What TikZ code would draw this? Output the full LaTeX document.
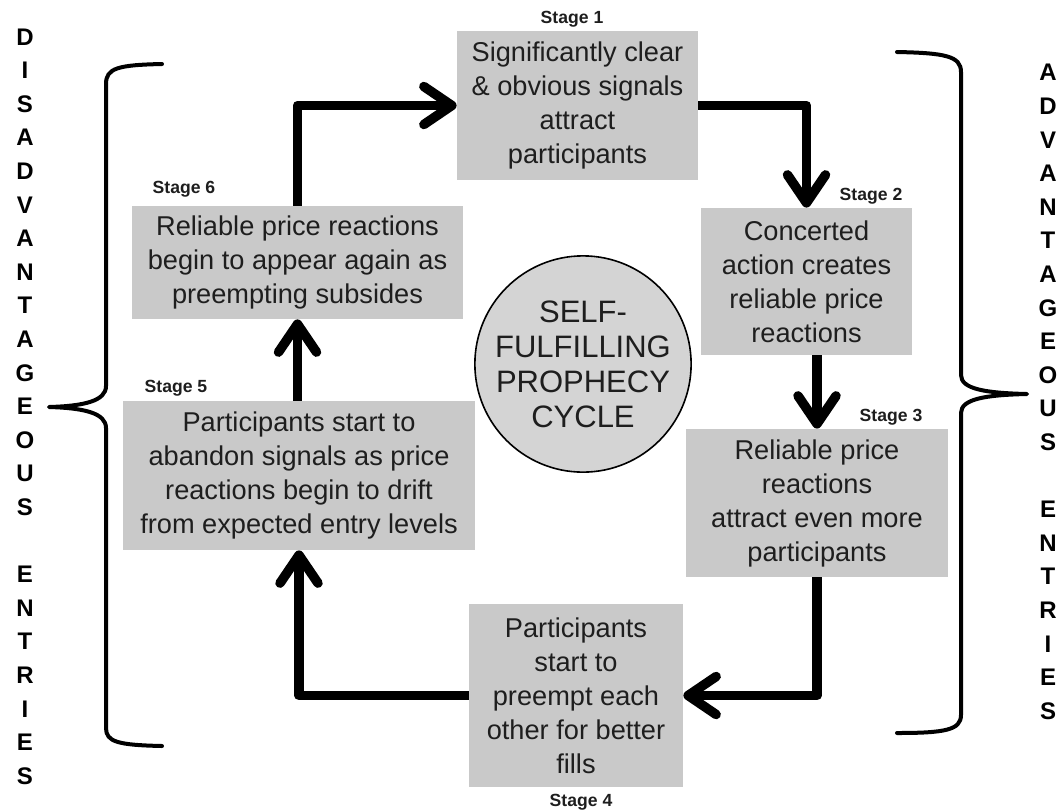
\documentclass[tikz,border=0pt]{standalone}
\usepackage{fontspec}
\setmainfont{Liberation Sans}
\usepackage{xcolor}
\usetikzlibrary{arrows.meta}
\definecolor{boxgray}{RGB}{201,201,201}
\definecolor{circgray}{RGB}{212,212,212}
\definecolor{txtgray}{RGB}{30,30,30}

\tikzset{
	stagebox/.style={rectangle,
		fill=boxgray,
		inner sep=0pt,
		align=center,
		text=txtgray,
		font=\fontsize{13.6}{17}\selectfont},
	stagelab/.style={font=\fontsize{8.8}{10}\selectfont\bfseries, text=txtgray},
	sideword/.style={align=center, inner sep=0pt,
		font=\fontsize{12}{16.8}\selectfont\bfseries},
	flow/.style={line width=4.75pt, line join=round,
		-{Straight Barb[length=14pt,width=19pt,round]}},
	sidebrace/.style={line width=2pt, line cap=round, line join=round}
}

\begin{document}
\begin{tikzpicture}[x=0.5pt,y=-0.5pt]
	\useasboundingbox (0,0) rectangle (1061,810);
	
	% the six stages
	\node[stagebox, minimum width=120.5pt, minimum height=74.5pt] (s1) at (577.5,105.5) {Significantly clear\\ \& obvious signals\\ attract\\ participants};
	\node[stagebox, minimum width=105.5pt, minimum height=73.5pt] (s2) at (806.5,281.5) {Concerted\\ action creates\\ reliable price\\ reactions};
	\node[stagebox, minimum width=131pt, minimum height=74pt] (s3) at (817,503) {Reliable price\\ reactions\\ attract even more\\ participants};
	\node[stagebox, minimum width=107pt, minimum height=91.5pt] (s4) at (576,695.5) {Participants\\ start to\\ preempt each\\ other for better\\ fills};
	\node[stagebox, minimum width=176pt, minimum height=74.5pt] (s5) at (299,475.5) {Participants start to\\ abandon signals as price\\ reactions begin to drift\\ from expected entry levels};
	\node[stagebox, minimum width=165.5pt, minimum height=56.5pt] (s6) at (297.5,262.5) {Reliable price reactions\\ begin to appear again as\\ preempting subsides};
	
	\node[stagelab] (l1) at (572,19) {Stage 1};
	\node[stagelab] (l2) at (871,196) {Stage 2};
	\node[stagelab] (l3) at (891,417) {Stage 3};
	\node[stagelab] (l4) at (581,802) {Stage 4};
	\node[stagelab] (l5) at (176,388) {Stage 5};
	\node[stagelab] (l6) at (184,189) {Stage 6};
	
	% centre
	\node[circle, draw=black, line width=0.8pt, fill=circgray,
		minimum size=103pt, inner sep=0pt, align=center, text=txtgray,
		font=\fontsize{15.5}{17.5}\selectfont] (cyc) at (583,364) {SELF-\\FULFILLING\\PROPHECY\\CYCLE};
	
	% cycle arrows
	\draw[flow] (s6.north) |- (s1.west);
	\draw[flow] (s1.east) -| (s2.north);
	\draw[flow] (s3.north |- s2.south) -- (s3.north);
	\draw[flow] (s3.south) |- (s4.east);
	\draw[flow] (s4.west) -| (s5.south);
	\draw[flow] (s6.south |- s5.north) -- (s6.south);
	
	% braces
	\draw[sidebrace] (162,64) .. controls (118,65) and (106,68) .. (106,84) -- (106,386)
		.. controls (106,401) and (84,406) .. (49,407)
		.. controls (84,408) and (106,413) .. (106,428) -- (106,728)
		.. controls (106,742) and (118,745) .. (162,746);
	\draw[sidebrace] (897,52) .. controls (945,53) and (961,56) .. (961,72) -- (961,375)
		.. controls (961,389) and (985,393) .. (1027,394)
		.. controls (985,395) and (961,399) .. (961,413) -- (961,715)
		.. controls (961,730) and (945,733) .. (897,733);
	
	\node[sideword] (dis) at (25,406.5) {D\\I\\S\\A\\D\\V\\A\\N\\T\\A\\G\\E\\O\\U\\S\\~\\E\\N\\T\\R\\I\\E\\S};
	\node[sideword] (adv) at (1048,392) {A\\D\\V\\A\\N\\T\\A\\G\\E\\O\\U\\S\\~\\E\\N\\T\\R\\I\\E\\S};
\end{tikzpicture}
\end{document}
